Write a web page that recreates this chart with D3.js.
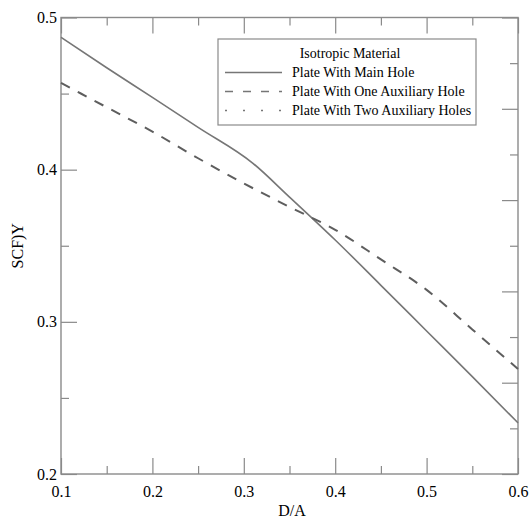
<!DOCTYPE html>
<html>
<head>
<meta charset="utf-8">
<script src="https://cdn.jsdelivr.net/npm/d3@7"></script>
<style>
  body { margin: 0; background: #fff; }
  svg { display: block; }
  svg text { font-family: "Liberation Serif", "DejaVu Serif", serif; }
</style>
</head>
<body>
<div id="chart"></div>
<script>
// D/A values and SCF)Y readings
const mainHoleX = [0.1, 0.15, 0.2, 0.25, 0.31, 0.35, 0.375, 0.4, 0.45, 0.5, 0.55, 0.6];
const mainHoleY = [0.487, 0.467, 0.4475, 0.4278, 0.4042, 0.382, 0.368, 0.3538, 0.324, 0.294, 0.264, 0.2336];

const oneAuxX = [0.1, 0.15, 0.2, 0.25, 0.3, 0.35, 0.4, 0.45, 0.5, 0.55, 0.6];
const oneAuxY = [0.457, 0.441, 0.425, 0.4075, 0.391, 0.3755, 0.3605, 0.341, 0.321, 0.295, 0.269];

const legendTitle = "Isotropic Material";
const seriesNames = ["Plate With Main Hole", "Plate With One Auxiliary Hole", "Plate With Two Auxiliary Holes"];

const xMajor = [0.1, 0.2, 0.3, 0.4, 0.5, 0.6];
const xMinor = [0.15, 0.25, 0.35, 0.45, 0.55];
const yMajor = [0.2, 0.3, 0.4, 0.5];
const yMinor = [0.25, 0.35, 0.45];
const rightMajor = [0, 0.2, 0.4, 0.6, 0.8, 1];
const rightMinor = [0.1, 0.3, 0.5, 0.7, 0.9];

const width = 531;
const height = 518;
const margin = { top: 17.5, right: 13, bottom: 44, left: 61 };
const axisColor = "#8a8a8a";
const lineColor = "#767676";

const x = d3.scaleLinear().domain([0.1, 0.6]).range([margin.left, width - margin.right]);
const y = d3.scaleLinear().domain([0.2, 0.5]).range([height - margin.bottom, margin.top]);
const yRight = d3.scaleLinear().domain([0, 1]).range([height - margin.bottom, margin.top]);

const svg = d3.select("#chart").append("svg").attr("width", width).attr("height", height);

function styleAxis(g) {
  g.attr("font-family", null);
  g.select(".domain").remove();
  g.selectAll(".tick line").attr("stroke", axisColor).attr("stroke-width", 1.2);
  g.selectAll(".tick text").attr("fill", "#000").style("font-size", "16px");
}

const bottom = height - margin.bottom;
const right = width - margin.right;

svg.append("g").attr("transform", `translate(0,${bottom})`)
  .call(d3.axisBottom(x).tickValues(xMajor).tickSize(-16).tickPadding(12).tickFormat(d3.format(".1f")))
  .call(styleAxis);
svg.append("g").attr("transform", `translate(0,${bottom})`)
  .call(d3.axisBottom(x).tickValues(xMinor).tickSize(-8).tickFormat(""))
  .call(styleAxis);
svg.append("g").attr("transform", `translate(0,${margin.top})`)
  .call(d3.axisTop(x).tickValues(xMajor).tickSize(-16).tickFormat(""))
  .call(styleAxis);
svg.append("g").attr("transform", `translate(0,${margin.top})`)
  .call(d3.axisTop(x).tickValues(xMinor).tickSize(-8).tickFormat(""))
  .call(styleAxis);

svg.append("g").attr("transform", `translate(${margin.left},0)`)
  .call(d3.axisLeft(y).tickValues(yMajor).tickSize(-16).tickPadding(4).tickFormat(d3.format(".1f")))
  .call(styleAxis);
svg.append("g").attr("transform", `translate(${margin.left},0)`)
  .call(d3.axisLeft(y).tickValues(yMinor).tickSize(-8).tickFormat(""))
  .call(styleAxis);
svg.append("g").attr("transform", `translate(${right},0)`)
  .call(d3.axisRight(yRight).tickValues(rightMajor).tickSize(-16).tickFormat(""))
  .call(styleAxis);
svg.append("g").attr("transform", `translate(${right},0)`)
  .call(d3.axisRight(yRight).tickValues(rightMinor).tickSize(-8).tickFormat(""))
  .call(styleAxis);

// plot frame
svg.append("rect")
  .attr("x", margin.left).attr("y", margin.top)
  .attr("width", right - margin.left).attr("height", bottom - margin.top)
  .attr("fill", "none").attr("stroke", axisColor).attr("stroke-width", 1.4);

const line = d3.line().x((d) => x(d[0])).y((d) => y(d[1])).curve(d3.curveMonotoneX);

svg.append("path")
  .datum(d3.zip(mainHoleX, mainHoleY))
  .attr("d", line)
  .attr("fill", "none").attr("stroke", lineColor).attr("stroke-width", 1.6);

svg.append("path")
  .datum(d3.zip(oneAuxX, oneAuxY))
  .attr("d", line)
  .attr("fill", "none").attr("stroke", "#5e5e5e").attr("stroke-width", 2)
  .attr("stroke-dasharray", "10 9");

// axis titles
svg.append("text")
  .attr("x", 292).attr("y", 516)
  .attr("text-anchor", "middle").style("font-size", "16px").attr("fill", "#000")
  .text("D/A");
svg.append("text")
  .attr("transform", `translate(23,${(margin.top + bottom) / 2}) rotate(-90)`)
  .attr("text-anchor", "middle").style("font-size", "16px").attr("fill", "#000")
  .text("SCF)Y");

// legend
const legend = svg.append("g");
legend.append("rect")
  .attr("x", 218).attr("y", 39).attr("width", 258).attr("height", 86)
  .attr("fill", "#fff").attr("stroke", axisColor).attr("stroke-width", 1.2);
legend.append("text")
  .attr("x", 350).attr("y", 58).attr("text-anchor", "middle")
  .style("font-size", "14px").attr("fill", "#000").text(legendTitle);

const dashes = [null, "8 10", "2 16"];
seriesNames.forEach((name, i) => {
  const base = 77 + i * 19;
  legend.append("line")
    .attr("x1", 225).attr("x2", 282).attr("y1", base - 4.5).attr("y2", base - 4.5)
    .attr("stroke", lineColor).attr("stroke-width", 1.5)
    .attr("stroke-dasharray", dashes[i]);
  legend.append("text")
    .attr("x", 292).attr("y", base)
    .style("font-size", "14px").attr("fill", "#000").text(name);
});
</script>
</body>
</html>
